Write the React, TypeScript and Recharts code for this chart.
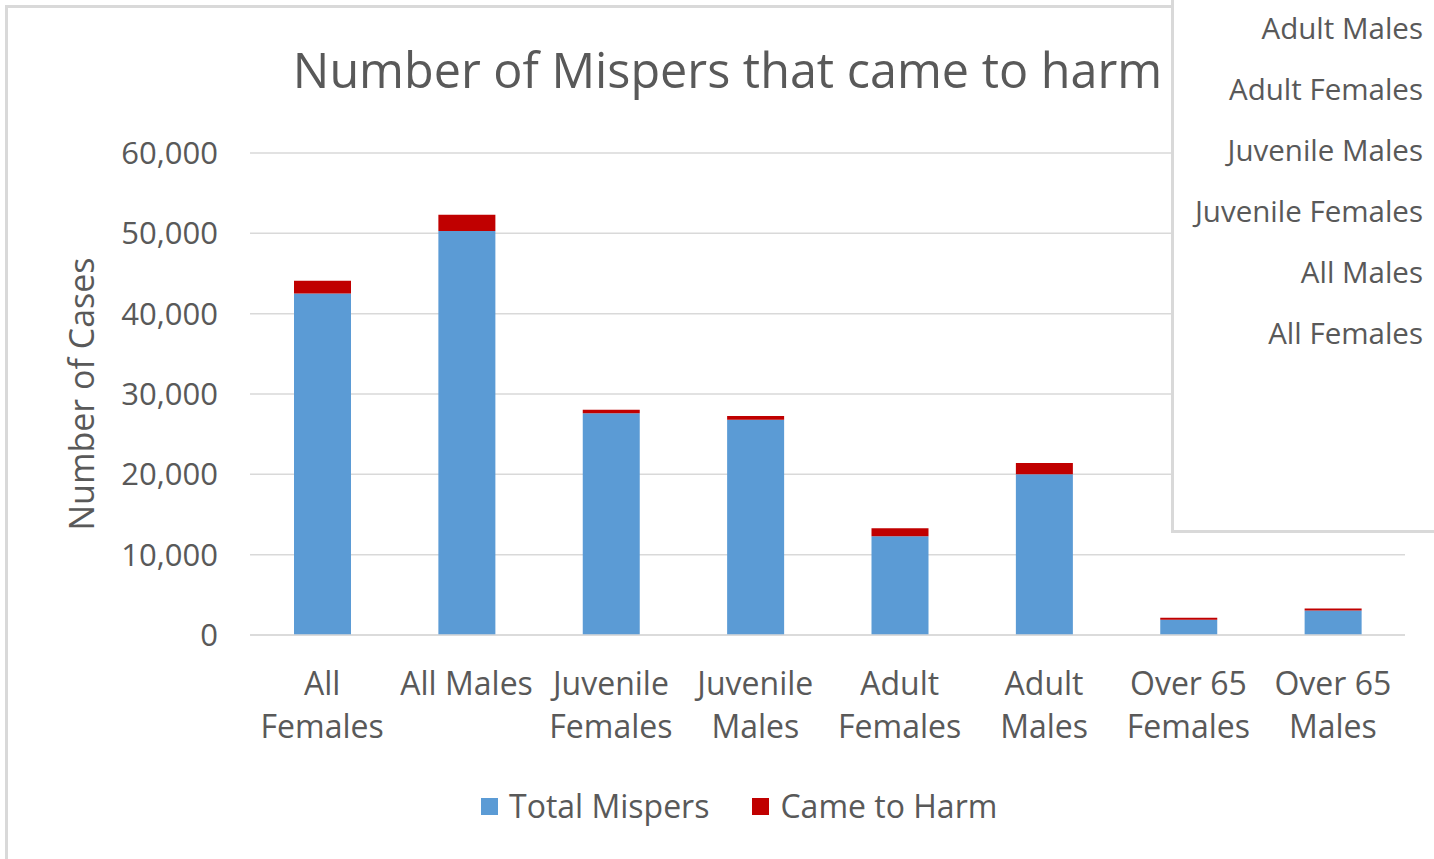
import React from "react";
import { BarChart, Bar, XAxis, YAxis, CartesianGrid, Legend } from "recharts";

// ─── Data ─────────────────────────────────────────────────────────────────────
const categories = [
  "All Females", "All Males", "Juvenile Females", "Juvenile Males",
  "Adult Females", "Adult Males", "Over 65 Females", "Over 65 Males",
];
const totalMispers = [42500, 50300, 27600, 26800, 12300, 20000, 1900, 3050];
const cameToHarm = [1600, 2000, 450, 450, 1000, 1400, 250, 250];
const yTicks = [0, 10000, 20000, 30000, 40000, 50000, 60000];
const panelItems = [
  "Adult Males", "Adult Females", "Juvenile Males",
  "Juvenile Females", "All Males", "All Females",
];

const data = categories.map((c, i) => ({ name: c, total: totalMispers[i], harm: cameToHarm[i] }));

const FONT = "'Open Sans', sans-serif";
const GREY = "#595959";
const BLUE = "#5b9bd5";
const RED = "#c00000";
const LINE = "#d9d9d9";

// ─── Helpers ─────────────────────────────────────────────────────────────────
function CategoryTick({ x, y, payload }: any) {
  const label: string = payload.value;
  const lines = label.length <= 9
    ? [label]
    : [label.slice(0, label.lastIndexOf(" ")), label.slice(label.lastIndexOf(" ") + 1)];
  return (
    <g>
      {lines.map((l, i) => (
        <text key={i} x={x} y={y + 52 + i * 43} textAnchor="middle"
          fill={GREY} fontSize={32} fontFamily={FONT}>{l}</text>
      ))}
    </g>
  );
}

function LegendContent() {
  const items = [{ label: "Total Mispers", color: BLUE }, { label: "Came to Harm", color: RED }];
  return (
    <div style={{ display: "flex", alignItems: "center", marginLeft: 481, fontFamily: FONT, fontSize: 32, color: GREY, lineHeight: "42px" }}>
      {items.map((it, i) => (
        <div key={i} style={{ display: "flex", alignItems: "center", marginRight: 43 }}>
          <span style={{ width: 17, height: 17, background: it.color, marginRight: 11, display: "inline-block" }} />
          <span>{it.label}</span>
        </div>
      ))}
    </div>
  );
}

// ─── Chart ────────────────────────────────────────────────────────────────────
export default function App() {
  return (
    <div style={{ position: "absolute", left: 0, top: 0, width: 1434, height: 859, overflow: "hidden", background: "#fff" }}>
      <div style={{ position: "absolute", left: 5, top: 5, width: 1500, height: 900, border: `3px solid ${LINE}` }} />
      <div style={{ position: "absolute", left: 0, width: 1455, top: 39, textAlign: "center", fontFamily: FONT, fontSize: 48.5, color: GREY, lineHeight: "60px" }}>
        Number of Mispers that came to harm
      </div>
      <div style={{ position: "absolute", left: 0, top: 0 }}>
        <BarChart width={1434} height={859} data={data}
          margin={{ top: 111, right: 29, bottom: 223, left: 0 }} barSize={57}>
          <CartesianGrid vertical={false} stroke={LINE} strokeWidth={1.5} />
          <XAxis dataKey="name" interval={0} tick={<CategoryTick />} tickLine={false}
            axisLine={{ stroke: LINE, strokeWidth: 1.5 }} height={1} />
          <YAxis width={250} domain={[0, 60000]} ticks={yTicks} interval={0}
            tickFormatter={(v: number) => v.toLocaleString("en-US")}
            tick={{ fontSize: 31, fill: GREY, fontFamily: FONT }}
            axisLine={false} tickLine={false} tickSize={0} tickMargin={32}
            label={{
              content: () => (
                <text x={81} y={394} transform="rotate(-90, 81, 394)" textAnchor="middle"
                  dominantBaseline="central" fill={GREY} fontSize={34} fontFamily={FONT}>
                  Number of Cases
                </text>
              ),
            }} />
          <Legend content={<LegendContent />} verticalAlign="top"
            wrapperStyle={{ position: "absolute", left: 0, top: 785, width: 1434 }} />
          <Bar dataKey="total" name="Total Mispers" stackId="a" fill={BLUE} isAnimationActive={false} />
          <Bar dataKey="harm" name="Came to Harm" stackId="a" fill={RED} isAnimationActive={false} />
        </BarChart>
      </div>
      <div style={{
        position: "absolute", left: 1171, top: 0, width: 300, height: 530, background: "#fff",
        borderLeft: `3px solid ${LINE}`, borderBottom: `3px solid ${LINE}`,
        fontFamily: FONT, fontSize: 29.5, color: GREY,
      }}>
        {panelItems.map((p, i) => (
          <div key={i} style={{ position: "absolute", right: 51, top: 8 + i * 61, lineHeight: "40px", textAlign: "right", whiteSpace: "nowrap" }}>
            {p}
          </div>
        ))}
      </div>
    </div>
  );
}
